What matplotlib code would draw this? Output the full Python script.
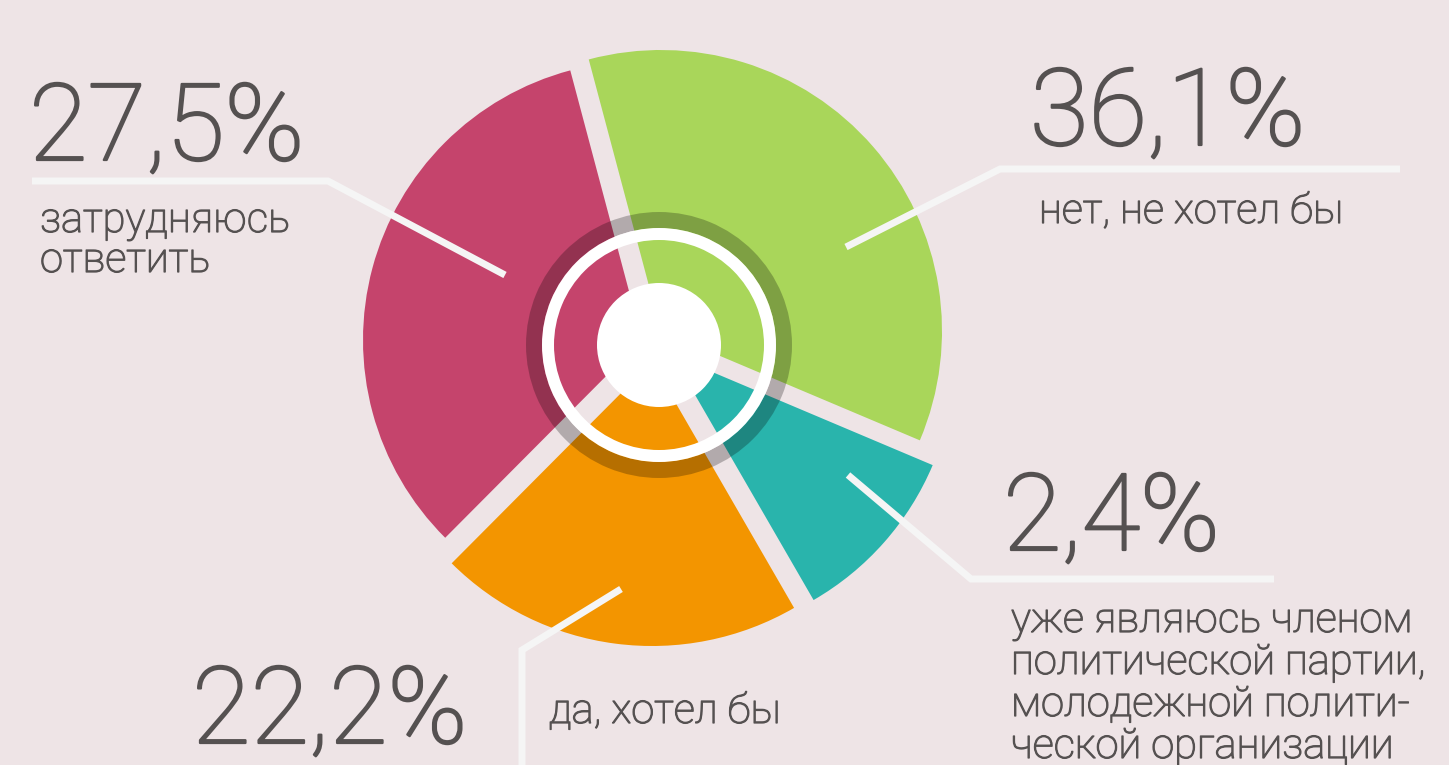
import matplotlib
matplotlib.use("Agg")
import matplotlib.pyplot as plt
import matplotlib.patheffects as pe
from matplotlib.patches import Wedge, Circle

# ---- data ----
categories = ["нет, не хотел бы",
              "уже являюсь членом политической партии, молодежной политической организации",
              "да, хотел бы",
              "затрудняюсь ответить"]
values = [36.1, 2.4, 22.2, 27.5]                 # printed percentages
drawn_share = [35.5, 10.3, 20.8, 33.4]           # share of the circle each slice occupies in the picture
label_lines = [["нет, не хотел бы"],
               ["уже являюсь членом", "политической партии,",
                "молодежной полити-", "ческой организации"],
               ["да, хотел бы"],
               ["затрудняюсь", "ответить"]]

# ---- style / layout ----
colors = ["#A9D65A", "#29B4AC", "#F39500", "#C5446C"]
bg = "#EEE4E6"
txt = "#555151"
lead = "#F5F5F5"
W, H = 1449, 765
start_angle = 104.9
slice_center = [(661, 331), (672, 355), (652, 362), (642, 340)]
slice_radius = [281, 283, 284, 279]
center = (659, 345)

value_pos = [(1030, 145), (1003, 550), (192, 743), (29, 160)]
label_pos = [(1039, 223), (1011, 632), (549, 723), (40, 232)]
line_gap = [0, 42, 0, 40]
leaders = [[(846, 247), (1000, 169), (1400, 169)],
           [(848, 475), (971, 579), (1274, 579)],
           [(621, 589), (522, 650), (522, 775)],
           [(32, 181), (328, 181), (505, 275)]]

plt.rcParams['font.family'] = ['Roboto', 'DejaVu Sans']

fig = plt.figure(figsize=(W / 100, H / 100), dpi=100, facecolor=bg)
ax = fig.add_axes([0, 0, 1, 1])
ax.set_xlim(0, W)
ax.set_ylim(0, H)
ax.set_aspect('equal')
ax.axis('off')
ax.set_facecolor(bg)


def Y(y):
    return H - y


theta_hi = start_angle
for share, col, c, r in zip(drawn_share, colors, slice_center, slice_radius):
    theta_lo = theta_hi - share * 3.6
    ax.add_patch(Wedge((c[0], Y(c[1])), r, theta_lo, theta_hi, facecolor=col,
                       edgecolor='none', zorder=1))
    theta_hi = theta_lo

cx, cy = center[0], Y(center[1])
ax.add_patch(Wedge((cx, cy), 133, 0, 360, width=16, facecolor='black', alpha=0.25,
                   edgecolor='none', zorder=2))
ax.add_patch(Wedge((cx, cy), 117, 0, 360, width=12, facecolor='white',
                   edgecolor='none', zorder=3))
ax.add_patch(Circle((cx, cy), 62, facecolor='white', edgecolor='none', zorder=4))

for pts in leaders:
    ax.plot([p[0] for p in pts], [Y(p[1]) for p in pts], color=lead, lw=5,
            solid_joinstyle='miter', solid_capstyle='butt', zorder=5)

big_fx = [pe.withStroke(linewidth=1.6, foreground=txt)]
small_fx = [pe.withStroke(linewidth=0.9, foreground=txt)]

for v, (x, y) in zip(values, value_pos):
    s = f"{v:.1f}".replace('.', ',') + '%'
    ax.text(x, Y(y), s, fontsize=77, fontweight='light', color=txt,
            ha='left', va='baseline', zorder=6, path_effects=big_fx)

for lines, (x, y), g in zip(label_lines, label_pos, line_gap):
    for i, line in enumerate(lines):
        ax.text(x, Y(y + i * g), line, fontsize=30, fontweight='light', color=txt,
                ha='left', va='baseline', zorder=6, path_effects=small_fx)

fig.savefig("out.png", dpi=100, facecolor=bg)
